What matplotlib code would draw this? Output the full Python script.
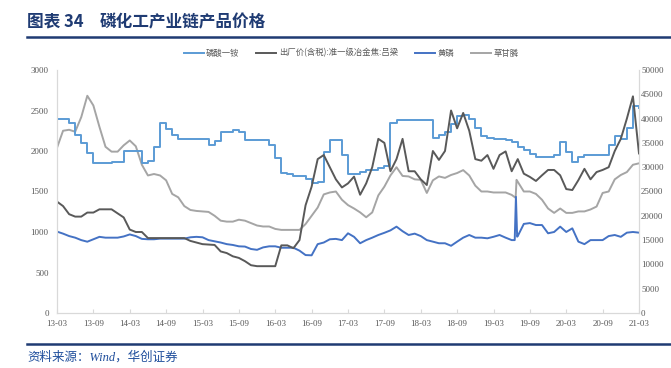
import numpy as np
import matplotlib
matplotlib.use("Agg")
import matplotlib.pyplot as plt
from matplotlib.lines import Line2D

plt.rcParams['font.family'] = ['Liberation Serif', 'Noto Sans CJK SC', 'DejaVu Sans']

# month offsets from 2013-03 (0) to 2021-03 (96)
months = np.arange(97)
tick_pos = np.arange(0, 97, 6)
tick_labels = ['13-03', '13-09', '14-03', '14-09', '15-03', '15-09', '16-03', '16-09',
               '17-03', '17-09', '18-03', '18-09', '19-03', '19-09', '20-03', '20-09', '21-03']

# 磷酸一铵 (left axis, yuan/t)
map_price = [2400, 2400, 2350, 2200, 2100, 1980, 1850, 1850, 1850, 1870,
             1870, 2000, 2000, 2000, 1850, 1880, 2050, 2350, 2270, 2200,
             2150, 2150, 2150, 2150, 2150, 2080, 2120, 2240, 2240, 2260,
             2240, 2140, 2140, 2140, 2140, 2080, 1910, 1730, 1720, 1690,
             1690, 1650, 1610, 1620, 1990, 2140, 2140, 1950, 1710, 1710,
             1740, 1760, 1770, 1790, 1820, 2340, 2380, 2380, 2380, 2380,
             2380, 2380, 2160, 2200, 2240, 2330, 2430, 2440, 2400, 2280,
             2180, 2160, 2150, 2150, 2140, 2110, 2050, 2010, 1960, 1930,
             1920, 1920, 1950, 2110, 1990, 1870, 1920, 1950, 1950, 1950,
             1950, 2080, 2180, 2150, 2280, 2560, 2530]

# 出厂价(含税):准一级冶金焦:吕梁 (left axis)
coke_price = [1375, 1320, 1220, 1190, 1190, 1240, 1240, 1280, 1280, 1280,
              1230, 1180, 1030, 1000, 1000, 925, 925, 925, 925, 925,
              925, 925, 890, 870, 850, 845, 840, 760, 740, 700,
              680, 640, 590, 578, 578, 578, 578, 835, 835, 800,
              900, 1330, 1560, 1900, 1950, 1800, 1650, 1550, 1600, 1684,
              1460, 1600, 1800, 2150, 2100, 1750, 1900, 2150, 1750, 1750,
              1650, 1580, 2000, 1890, 2000, 2500, 2280, 2470, 2250, 1900,
              1880, 1950, 1780, 1950, 1995, 1750, 1900, 1720, 1680, 1630,
              1700, 1766, 1766, 1700, 1530, 1518, 1640, 1780, 1650, 1740,
              1766, 1800, 2000, 2150, 2400, 2675, 1970]

# 黄磷 (right axis)
p4_price = [16750, 16330, 15830, 15500, 15000, 14670, 15170, 15670, 15500, 15500,
            15500, 15750, 16170, 15830, 15250, 15170, 15170, 15300, 15300, 15300,
            15300, 15300, 15580, 15670, 15580, 15000, 14750, 14500, 14170, 14000,
            13720, 13670, 13170, 13000, 13500, 13720, 13720, 13430, 13430, 13430,
            12830, 11920, 11870, 14170, 14500, 15170, 15250, 15000, 16400, 15670,
            14350, 15000, 15500, 16050, 16500, 17000, 17770, 16830, 16050, 16330,
            15830, 15000, 14680, 14350, 14350, 13830, 14680, 15500, 16050, 15500,
            15500, 15370, 15680, 16050, 15500, 15000, 15830, 18330, 18500, 18100,
            18100, 16400, 16670, 17770, 16670, 17420, 14680, 14170, 15000, 15000,
            15000, 15830, 16050, 15670, 16530, 16670, 16530]
p4_extra_m = [75.5, 75.7, 75.9]
p4_extra_v = [15000, 23900, 15700]

# 草甘膦 (right axis)
gly_price = [34000, 37500, 37700, 37300, 40300, 44700, 42700, 38300, 34200, 33200,
             33200, 34500, 35500, 34300, 30500, 28300, 28600, 28300, 27300, 24500,
             23800, 22000, 21200, 21000, 20900, 20800, 20000, 19000, 18800, 18800,
             19200, 19000, 18500, 18000, 17800, 17800, 17300, 17100, 17100, 17100,
             17100, 18300, 20000, 21700, 24400, 24800, 25000, 23300, 22200, 21500,
             20700, 19700, 20700, 24200, 26000, 28300, 30000, 28200, 28100, 27500,
             27400, 24700, 27300, 28100, 27800, 28400, 28800, 29400, 28300, 26200,
             25000, 25000, 24800, 24800, 24800, 24300, 27000, 25000, 25000, 24500,
             23300, 21500, 20600, 21500, 20600, 20600, 20900, 20900, 21300, 21900,
             24700, 25000, 27500, 28400, 29000, 30500, 30800]
gly_extra_m = [75.65, 75.8]
gly_extra_v = [23700, 27400]


def merge(base_v, extra_m, extra_v):
    x = np.concatenate([months, extra_m])
    y = np.concatenate([base_v, extra_v])
    order = np.argsort(x)
    return x[order], y[order]


c_map = '#5b9bd5'
c_coke = '#595959'
c_p4 = '#4472c4'
c_gly = '#a5a5a5'
navy = '#1f3b73'
axis_c = '#d9d9d9'
text_c = '#595959'

fig = plt.figure(figsize=(6.71, 3.68), dpi=100)
ax = fig.add_axes([57 / 671, 55 / 368, 582 / 671, 243 / 368])
ax2 = ax.twinx()

gx, gy = merge(gly_price, gly_extra_m, gly_extra_v)
px, py = merge(p4_price, p4_extra_m, p4_extra_v)

l4, = ax2.plot(gx, gy, color=c_gly, lw=1.4)
l3, = ax2.plot(px, py, color=c_p4, lw=1.4)
l1, = ax.plot(months, map_price, color=c_map, lw=1.4, drawstyle='steps-post')
l2, = ax.plot(months, coke_price, color=c_coke, lw=1.4)
ax.set_zorder(ax2.get_zorder() + 1)
ax.patch.set_visible(False)

ax.set_xlim(0, 96)
ax.set_ylim(0, 3000)
ax2.set_ylim(0, 50000)
ax.set_yticks(np.arange(0, 3001, 500))
ax2.set_yticks(np.arange(0, 50001, 5000))
ax.set_xticks(tick_pos)
ax.set_xticklabels(tick_labels)

for a in (ax, ax2):
    a.spines['top'].set_visible(False)
    for s in ('left', 'right', 'bottom'):
        a.spines[s].set_color(axis_c)
        a.spines[s].set_linewidth(0.8)
    a.tick_params(axis='both', colors=axis_c, labelcolor=text_c, labelsize=6.5,
                  direction='in', length=3, width=0.8)
ax.tick_params(axis='x', pad=5)
ax.tick_params(axis='y', length=0, pad=6)
ax2.tick_params(axis='y', length=0, pad=1.5)

# title
fig.text(27 / 671, 1 - 22 / 368, '图表 34', fontsize=12, fontweight='bold', color=navy,
         family=['Noto Sans CJK SC'], va='center')
fig.text(100 / 671, 1 - 22 / 368, '磷化工产业链产品价格', fontsize=12, fontweight='bold',
         color=navy, family=['Noto Sans CJK SC'], va='center')
fig.add_artist(Line2D([27 / 671, 1], [1 - 37 / 368, 1 - 37 / 368], color=navy, lw=1.8))
fig.add_artist(Line2D([27 / 671, 1], [1 - 344 / 368, 1 - 344 / 368], color=navy, lw=1.8))
fig.text(27 / 671, 1 - 357 / 368, '资料来源：Wind，华创证券', fontsize=9, style='italic',
         color='#1f4e9c', family=['Liberation Serif', 'Noto Sans CJK SC'], va='center')

leg = fig.legend([l1, l2, l3, l4],
                 ['磷酸一铵', '出厂价(含税):准一级冶金焦:吕梁', '黄磷', '草甘膦'],
                 loc='center', bbox_to_anchor=(351 / 671, 1 - 53 / 368), ncol=4,
                 frameon=False, handlelength=2.4, columnspacing=2.0,
                 handletextpad=0.3, prop={'family': ['Noto Sans CJK SC'], 'size': 6})
for t in leg.get_texts():
    t.set_color(text_c)

fig.savefig('out.png', dpi=100)
